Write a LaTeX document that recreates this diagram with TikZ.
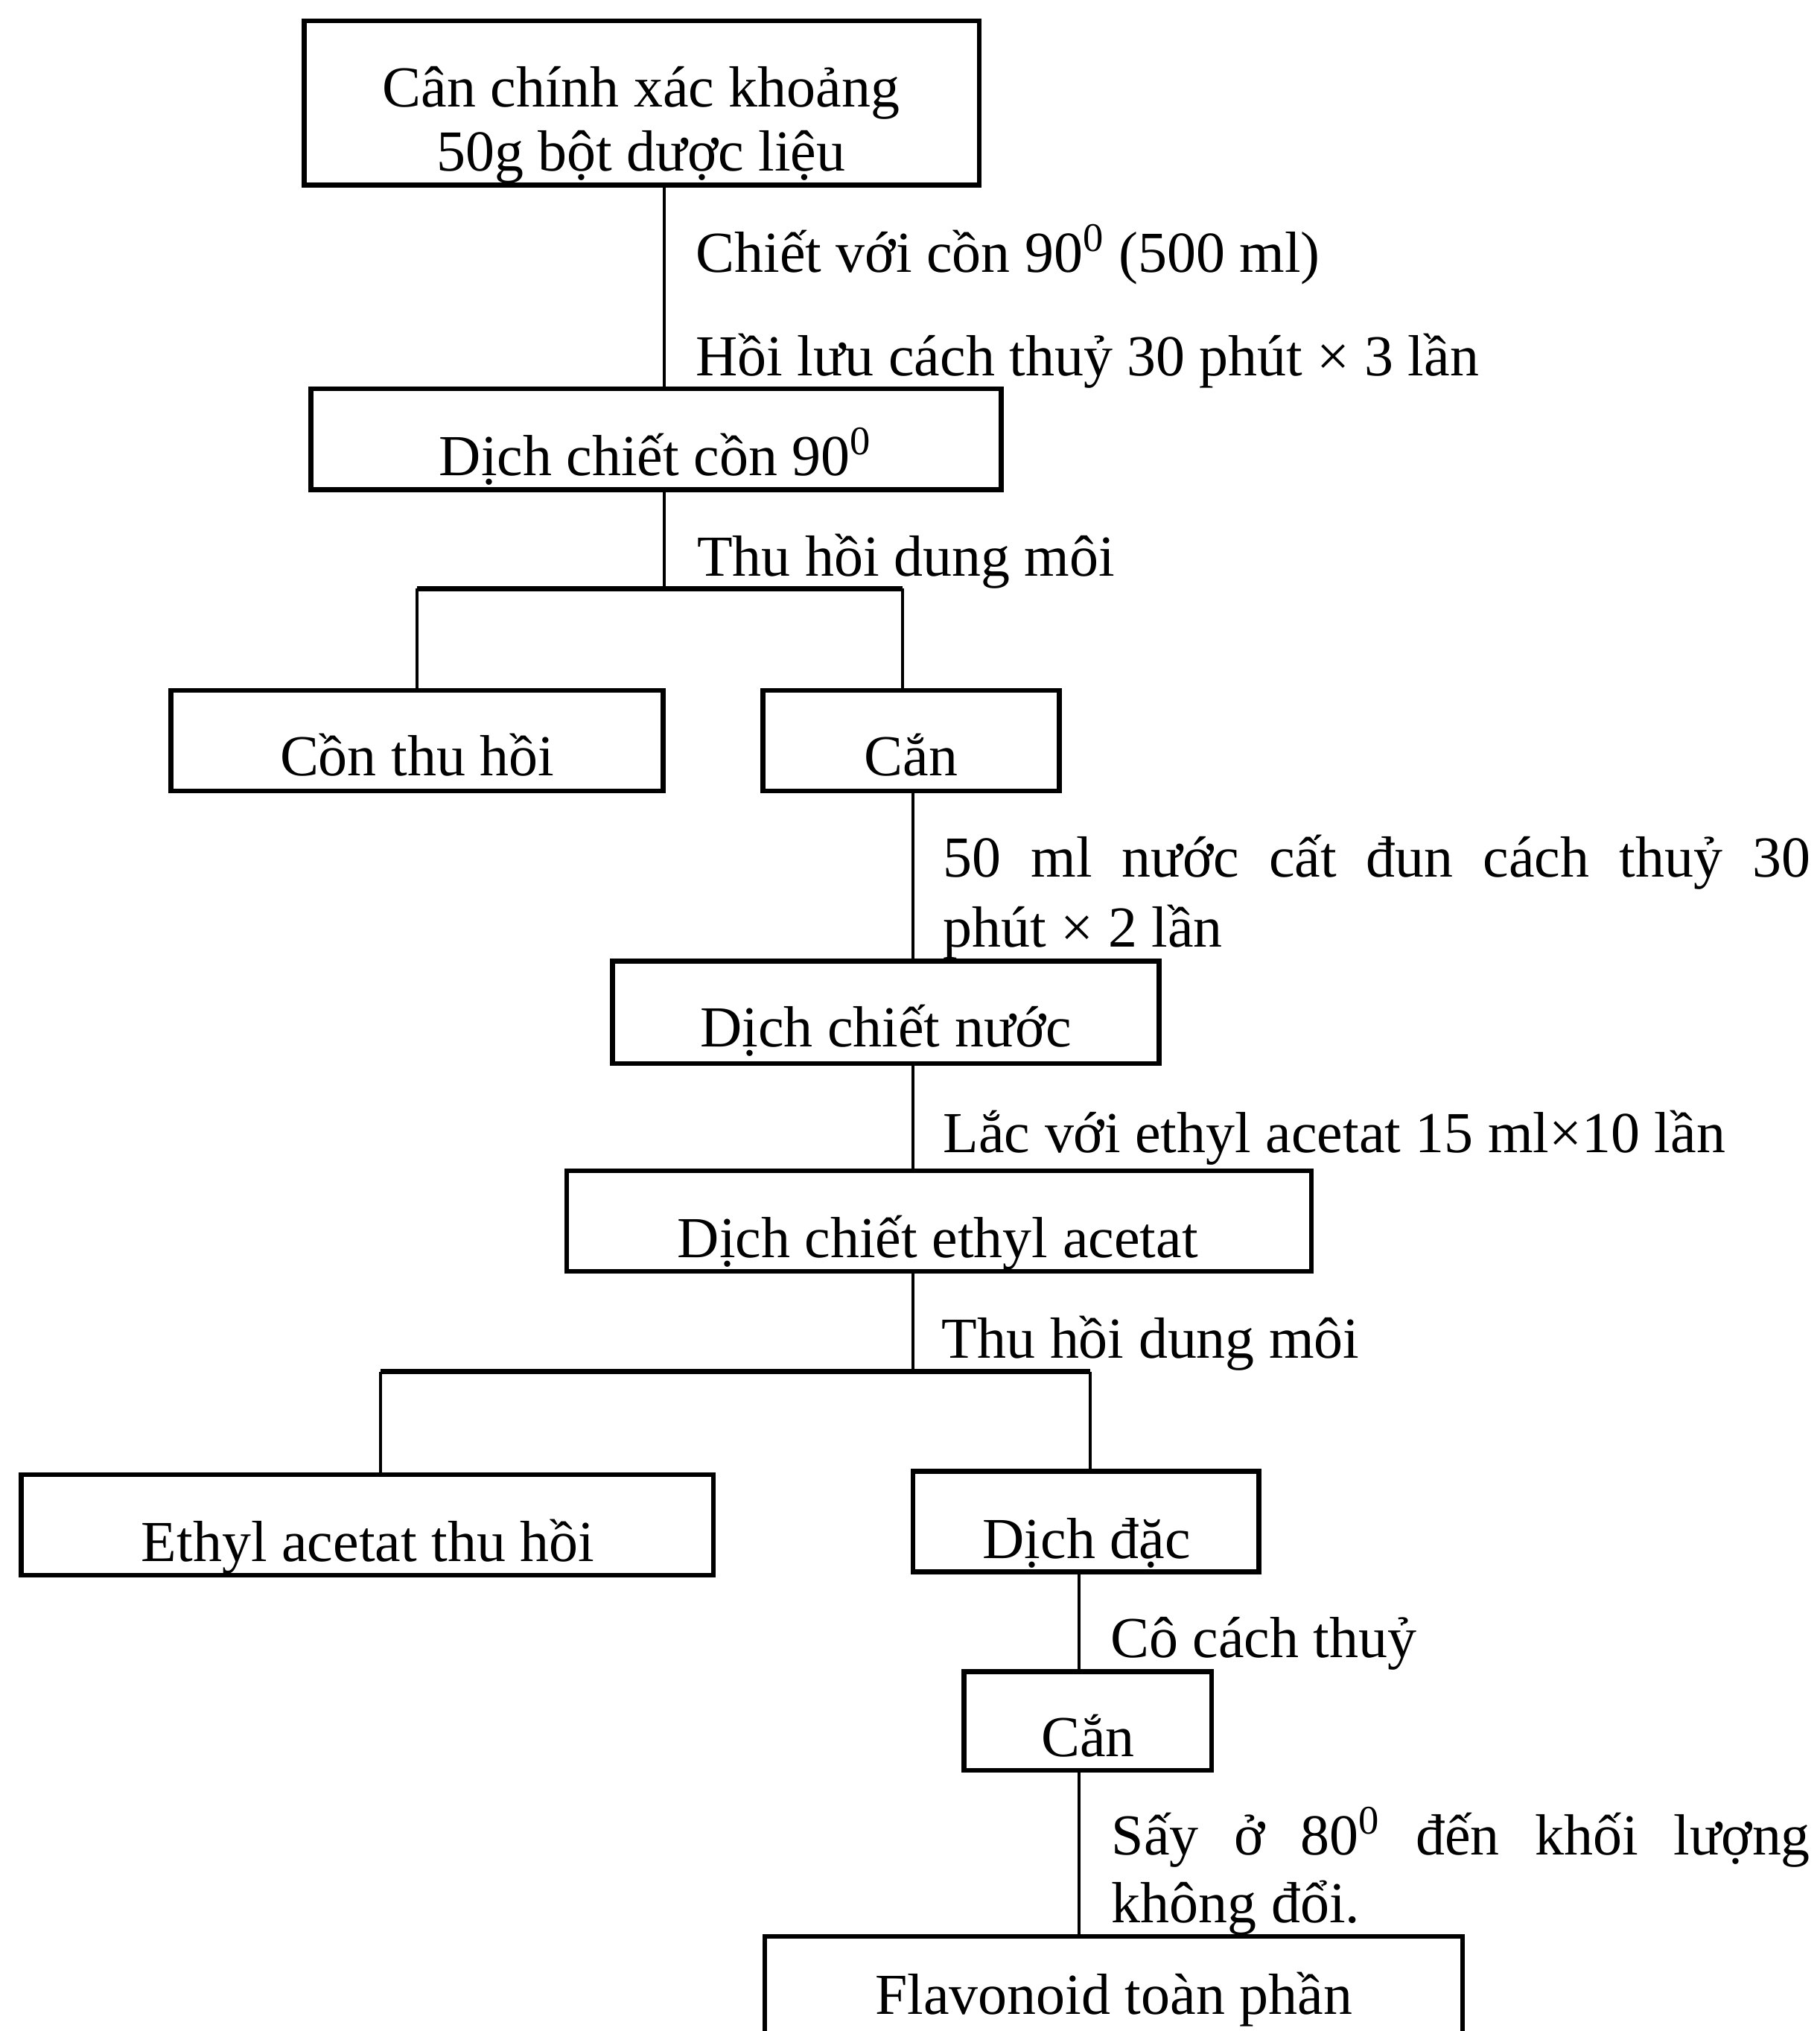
\documentclass[tikz,border=0pt]{standalone}
\usepackage{fontspec}
\setmainfont{Liberation Serif}
\usetikzlibrary{fit}
\begin{document}
\begin{tikzpicture}[x=0.02cm, y=-0.02cm,
  box/.style={draw, line width=2.1pt, inner sep=0pt},
  conn/.style={line width=1.4pt},
  barline/.style={line width=2.2pt},
  txt/.style={inner sep=0pt, anchor=base, font=\fontsize{25.5}{30}\selectfont},
  lbl/.style={txt, anchor=base west}]
\clip (0,0) rectangle (1405,1568);
\fill[white] (0,0) rectangle (1405,1568);

% boxes
\node[box, fit={(235,16) (756,143)}] (b1) {};
\node[box, fit={(240,300) (773,378)}] (b2) {};
\node[box, fit={(132,533) (512,610.5)}] (b3) {};
\node[box, fit={(589,533) (818,610.5)}] (b4) {};
\node[box, fit={(473,742) (895,821)}] (b5) {};
\node[box, fit={(437.5,904) (1012.6,981.5)}] (b6) {};
\node[box, fit={(16.5,1138.6) (551,1216)}] (b7) {};
\node[box, fit={(705,1135.8) (972,1213.4)}] (b8) {};
\node[box, fit={(744.4,1290.5) (935.6,1366.7)}] (b9) {};
\node[box, fit={(590.4,1495) (1129.4,1650)}] (b10) {};

% box texts
\node[txt] (t1a) at (495,82.4) {Cân chính xác khoảng};
\node[txt] (t1b) at (495,132.2) {50g bột dược liệu};
\node[txt] (t2) at (506,367) {Dịch chiết cồn 90\textsuperscript{0}};
\node[txt] (t3) at (322,599) {Cồn thu hồi};
\node[txt] (t4) at (703.5,599) {Cắn};
\node[txt] (t5) at (684,808) {Dịch chiết nước};
\node[txt] (t6) at (724,971) {Dịch chiết ethyl acetat};
\node[txt] (t7) at (284,1205.7) {Ethyl acetat thu hồi};
\node[txt] (t8) at (839,1203) {Dịch đặc};
\node[txt] (t9) at (840,1356) {Cắn};
\node[txt] (t10) at (860,1555) {Flavonoid toàn phần};

% connector guides
\coordinate (xa) at (513,0);
\coordinate (xb) at (705,0);
\coordinate (xc) at (833,0);
\coordinate (bar1L) at (322,454.5);
\coordinate (bar1R) at (697,454.5);
\coordinate (bar2L) at (293.7,1059);
\coordinate (bar2R) at (841.6,1059);

% connectors
\draw[conn] (b1.south -| xa) -- (b2.north -| xa);
\draw[conn] (b2.south -| xa) -- (xa |- bar1L);
\draw[barline] (bar1L) -- (bar1R);
\draw[conn] (bar1L) -- (b3.north -| bar1L);
\draw[conn] (bar1R) -- (b4.north -| bar1R);
\draw[conn] (b4.south -| xb) -- (b5.north -| xb);
\draw[conn] (b5.south -| xb) -- (b6.north -| xb);
\draw[conn] (b6.south -| xb) -- (xb |- bar2L);
\draw[barline] (bar2L) -- (bar2R);
\draw[conn] (bar2L) -- (b7.north -| bar2L);
\draw[conn] (bar2R) -- (b8.north -| bar2R);
\draw[conn] (b8.south -| xc) -- (b9.north -| xc);
\draw[conn] (b9.south -| xc) -- (b10.north -| xc);

% labels
\node[lbl] (l1) at (537,210) {Chiết với cồn 90\textsuperscript{0} (500 ml)};
\node[lbl] (l2) at (537,290) {Hồi lưu cách thuỷ 30 phút × 3 lần};
\node[lbl] (l3) at (538,444.7) {Thu hồi dung môi};
\node[lbl] (l4a) at (728,677) {\makebox[381pt][s]{50 ml nước cất đun cách thuỷ 30}};
\node[lbl] (l4b) at (728,731) {phút × 2 lần};
\node[lbl] (l5) at (728,890) {Lắc với ethyl acetat 15 ml×10 lần};
\node[lbl] (l6) at (727,1048.5) {Thu hồi dung môi};
\node[lbl] (l7) at (857,1279.5) {Cô cách thuỷ};
\node[lbl] (l8a) at (858,1432) {\makebox[307pt][s]{Sấy ở 80\textsuperscript{0} đến khối lượng}};
\node[lbl] (l8b) at (858,1484.5) {không đổi.};
\end{tikzpicture}
\end{document}
